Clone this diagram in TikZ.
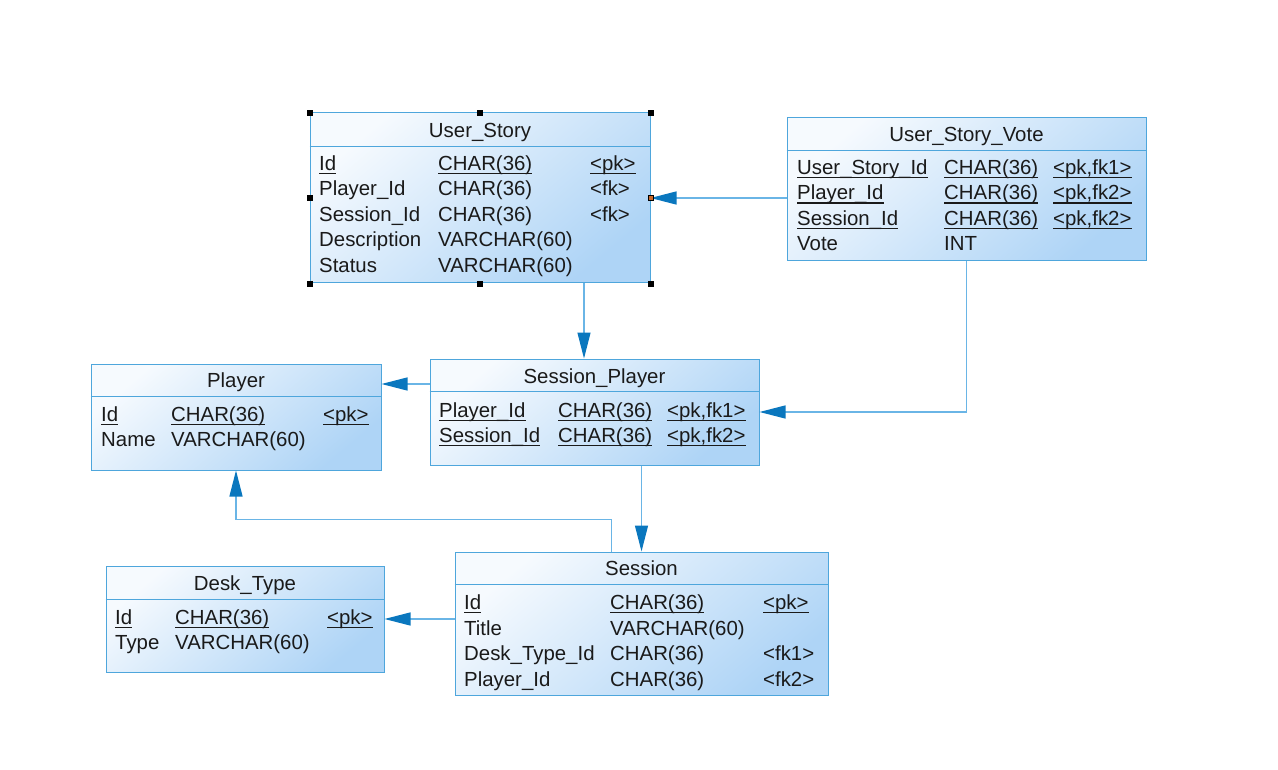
\documentclass[tikz,border=0pt]{standalone}
\usepackage{fontspec}
\setmainfont{Liberation Sans}
\usetikzlibrary{arrows.meta,calc}
\definecolor{bord}{HTML}{4EA6DC}
\definecolor{fillA}{HTML}{F6FAFE}
\definecolor{fillB}{HTML}{AED4F6}
\definecolor{lineC}{HTML}{6AB5E6}
\definecolor{headC}{HTML}{0A77BE}
\definecolor{txtC}{HTML}{1A1A1A}
\definecolor{handleO}{HTML}{C8682A}
\newcommand\tcell[3]{\node[txt] (#1) at (#2) {#3};}
\newcommand\ucell[3]{\node[txt] (#1) at (#2) {#3};
  \draw[ulline] ([yshift=-3pt]#1.base west) -- ([yshift=-3pt]#1.base east);}
\newcommand\hdiv[2]{\draw[divline] ([yshift=-#2]#1.north west) -- ([yshift=-#2]#1.north east);}
\newcommand\handle[2]{\draw[handlestyle,fill=#2] ([shift={(-2.5pt,-2.5pt)}]#1) rectangle ([shift={(2.5pt,2.5pt)}]#1);}
\begin{document}
\begin{tikzpicture}[x=1pt,y=-1pt,
  tbl/.style={draw=bord, line width=1pt, inner sep=0pt, top color=fillA, bottom color=fillB, shading angle=40},
  divline/.style={draw=bord, line width=1pt},
  txt/.style={inner sep=0pt, anchor=base west, font=\fontsize{20.4}{24}\selectfont, text=txtC},
  ttl/.style={txt, anchor=base},
  ulline/.style={draw=txtC, line width=1.3pt},
  conn/.style={draw=lineC, line width=1.2pt, -{Triangle[length=26pt,width=13pt,color=headC]}},
  handlestyle/.style={draw=black, line width=0.6pt}]
\useasboundingbox (0,0) rectangle (1278,770);
\fill[white] (0,0) rectangle (1278,770);

% ---------- User_Story ----------
\node[tbl, minimum width=340pt, minimum height=170pt] (us) at (480,198) {};
\hdiv{us}{34pt}
\node[ttl] (us-t) at (480,137.5) {User\_Story};
\ucell{us-1a}{319,170.5}{Id}\ucell{us-1b}{438,170.5}{CHAR(36)}\ucell{us-1c}{590,170.5}{<pk>}
\tcell{us-2a}{319,196}{Player\_Id}\tcell{us-2b}{438,196}{CHAR(36)}\tcell{us-2c}{590,196}{<fk>}
\tcell{us-3a}{319,221.5}{Session\_Id}\tcell{us-3b}{438,221.5}{CHAR(36)}\tcell{us-3c}{590,221.5}{<fk>}
\tcell{us-4a}{319,247}{Description}\tcell{us-4b}{438,247}{VARCHAR(60)}
\tcell{us-5a}{319,272.5}{Status}\tcell{us-5b}{438,272.5}{VARCHAR(60)}

% ---------- User_Story_Vote ----------
\node[tbl, minimum width=359pt, minimum height=143pt] (usv) at (966.5,189.5) {};
\hdiv{usv}{33pt}
\node[ttl] (usv-t) at (966.5,142) {User\_Story\_Vote};
\ucell{usv-1a}{797,174.5}{User\_Story\_Id}\ucell{usv-1b}{944,174.5}{CHAR(36)}\ucell{usv-1c}{1053,174.5}{<pk,fk1>}
\ucell{usv-2a}{797,200}{Player\_Id}\ucell{usv-2b}{944,200}{CHAR(36)}\ucell{usv-2c}{1053,200}{<pk,fk2>}
\ucell{usv-3a}{797,225.5}{Session\_Id}\ucell{usv-3b}{944,225.5}{CHAR(36)}\ucell{usv-3c}{1053,225.5}{<pk,fk2>}
\tcell{usv-4a}{797,251}{Vote}\tcell{usv-4b}{944,251}{INT}

% ---------- Player ----------
\node[tbl, minimum width=290pt, minimum height=106pt] (pl) at (236,417) {};
\hdiv{pl}{33pt}
\node[ttl] (pl-t) at (236,387.5) {Player};
\ucell{pl-1a}{101,421.5}{Id}\ucell{pl-1b}{171,421.5}{CHAR(36)}\ucell{pl-1c}{323,421.5}{<pk>}
\tcell{pl-2a}{101,446.5}{Name}\tcell{pl-2b}{171,446.5}{VARCHAR(60)}

% ---------- Session_Player ----------
\node[tbl, minimum width=329pt, minimum height=106pt] (sp) at (594.5,412) {};
\hdiv{sp}{33pt}
\node[ttl] (sp-t) at (594.5,383.5) {Session\_Player};
\ucell{sp-1a}{439,417.5}{Player\_Id}\ucell{sp-1b}{558,417.5}{CHAR(36)}\ucell{sp-1c}{667,417.5}{<pk,fk1>}
\ucell{sp-2a}{439,442.5}{Session\_Id}\ucell{sp-2b}{558,442.5}{CHAR(36)}\ucell{sp-2c}{667,442.5}{<pk,fk2>}

% ---------- Desk_Type ----------
\node[tbl, minimum width=278pt, minimum height=106pt] (dt) at (245,619) {};
\hdiv{dt}{34pt}
\node[ttl] (dt-t) at (245,590.5) {Desk\_Type};
\ucell{dt-1a}{115,624.5}{Id}\ucell{dt-1b}{175,624.5}{CHAR(36)}\ucell{dt-1c}{327,624.5}{<pk>}
\tcell{dt-2a}{115,649.5}{Type}\tcell{dt-2b}{175,649.5}{VARCHAR(60)}

% ---------- Session ----------
\node[tbl, minimum width=373pt, minimum height=143pt] (se) at (641.5,623.5) {};
\hdiv{se}{33pt}
\node[ttl] (se-t) at (641.5,575.5) {Session};
\ucell{se-1a}{464,609.5}{Id}\ucell{se-1b}{610,609.5}{CHAR(36)}\ucell{se-1c}{763,609.5}{<pk>}
\tcell{se-2a}{464,635}{Title}\tcell{se-2b}{610,635}{VARCHAR(60)}
\tcell{se-3a}{464,660.5}{Desk\_Type\_Id}\tcell{se-3b}{610,660.5}{CHAR(36)}\tcell{se-3c}{763,660.5}{<fk1>}
\tcell{se-4a}{464,686}{Player\_Id}\tcell{se-4b}{610,686}{CHAR(36)}\tcell{se-4c}{763,686}{<fk2>}

% ---------- connectors ----------
\draw[conn] (usv.west |- us.east) -- (us.east);
\draw[conn] ([xshift=104pt]us.south) -- ([xshift=104pt]us.south |- sp.north);
\draw[conn] (sp.west |- 0,384) -- (pl.east |- 0,384);
\draw[conn] (usv.south) |- (sp.east);
\draw[conn] (se.north |- sp.south) -- (se.north);
\draw[conn] ([xshift=-30pt]se.north) -- ++(0,-32) -| (pl.south);
\draw[conn] (se.west |- dt.east) -- (dt.east);

% ---------- selection handles ----------
\handle{us.north west}{black}\handle{us.north}{black}\handle{us.north east}{black}
\handle{us.west}{black}\handle{us.east}{handleO}
\handle{us.south west}{black}\handle{us.south}{black}\handle{us.south east}{black}
\end{tikzpicture}
\end{document}
